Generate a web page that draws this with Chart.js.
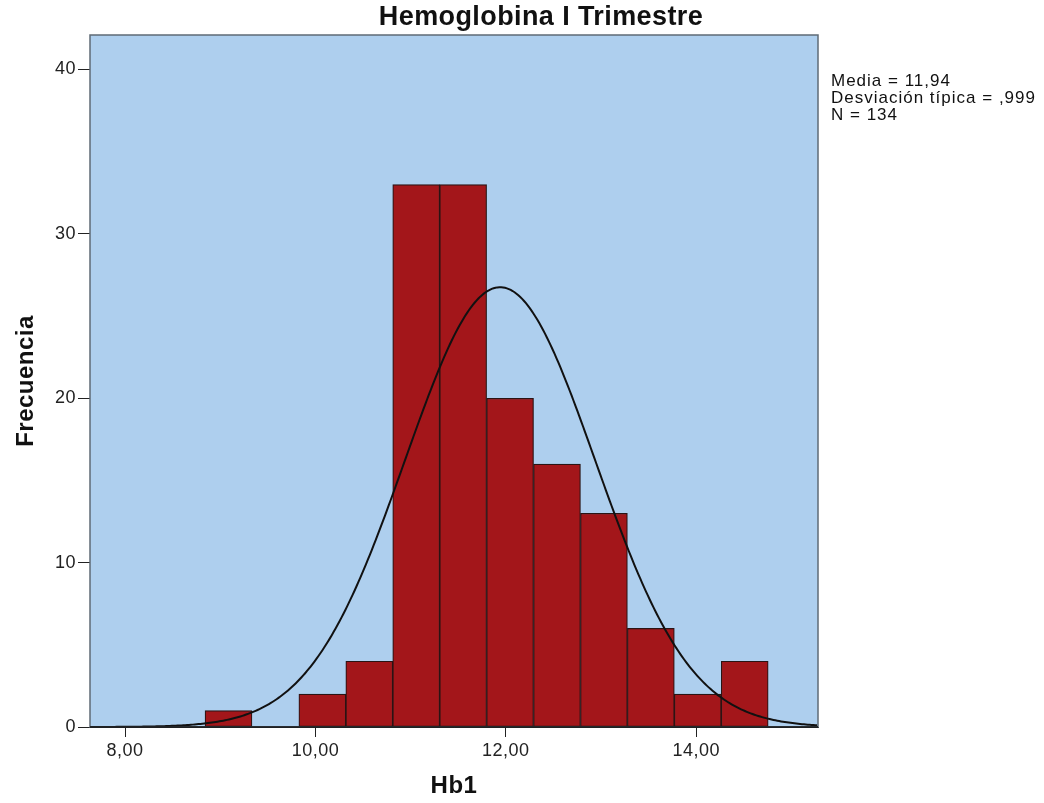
<!DOCTYPE html>
<html lang="es">
<head>
  <meta charset="UTF-8" />
  <title>Hemoglobina I Trimestre</title>
  <script src="https://cdn.jsdelivr.net/npm/chart.js"></script>
  <style>
    body { margin: 0; background: #fff; }
    canvas { display: block; }
  </style>
</head>
<body>
  <canvas id="histo" width="1044" height="803"></canvas>
  <script>
    // bin centres (Hb1, g/dL) and counts
    const binCenters = [9.087, 9.58, 10.073, 10.566, 11.059, 11.552, 12.045, 12.538, 13.031, 13.524, 14.017, 14.51];
    const binCounts  = [1, 0, 2, 4, 33, 33, 20, 16, 13, 6, 2, 4];
    const xTicks = [8, 10, 12, 14];
    const yTicks = [0, 10, 20, 30, 40];
    const statLines = ["Media = 11,94", "Desviación típica = ,999", "N = 134"];

    // stats printed on the chart, used for the normal curve
    const media = 11.94;
    const desv = 0.999;
    const nTotal = 134;
    const curveBinWidth = 0.5;
    const xMin = 7.632, xMax = 15.28;
    const yMax = 42.1;

    const curve = [];
    for (let x = xMin; x <= xMax + 1e-9; x += 0.02) {
      const z = (x - media) / desv;
      curve.push({ x: x, y: nTotal * curveBinWidth * Math.exp(-0.5 * z * z) / (desv * Math.sqrt(2 * Math.PI)) });
    }

    const fmt = v => v.toFixed(2).replace('.', ',');
    const FONT = '"Liberation Sans", Arial, sans-serif';

    const frame = {
      id: 'frame',
      beforeDraw(chart) {
        chart.ctx.letterSpacing = '0.5px';
      },
      beforeDatasetsDraw(chart) {
        const a = chart.chartArea, ctx = chart.ctx;
        ctx.save();
        ctx.fillStyle = '#aecfee';
        ctx.fillRect(a.left, a.top, a.right - a.left, a.bottom - a.top);
        ctx.restore();
      },
      afterDraw(chart) {
        const a = chart.chartArea, ctx = chart.ctx;
        ctx.save();
        ctx.strokeStyle = '#5f6b76';
        ctx.lineWidth = 1.5;
        ctx.strokeRect(a.left, a.top, a.right - a.left, a.bottom - a.top);
        ctx.strokeStyle = '#111';
        ctx.beginPath();
        ctx.moveTo(a.left, a.bottom);
        ctx.lineTo(a.right, a.bottom);
        ctx.stroke();

        ctx.fillStyle = '#111';
        ctx.textAlign = 'center';
        ctx.textBaseline = 'middle';
        ctx.letterSpacing = '0.4px';
        ctx.font = 'bold 27px ' + FONT;
        ctx.fillText('Hemoglobina I Trimestre', 541, 18);

        ctx.textAlign = 'left';
        ctx.letterSpacing = '1px';
        ctx.font = '17px ' + FONT;
        statLines.forEach((t, i) => ctx.fillText(t, 831, 81 + i * 17));
        ctx.restore();
      }
    };

    new Chart(document.getElementById('histo'), {
      type: 'bar',
      data: {
        datasets: [
          {
            type: 'line',
            data: curve,
            borderColor: '#111',
            borderWidth: 2,
            pointRadius: 0,
            tension: 0,
            order: 0
          },
          {
            type: 'bar',
            data: binCenters.map((c, i) => ({ x: c, y: binCounts[i] })),
            backgroundColor: '#a3161a',
            borderColor: '#2b1414',
            borderWidth: 1.2,
            borderSkipped: false,
            barPercentage: 1,
            categoryPercentage: 1,
            order: 1
          }
        ]
      },
      options: {
        responsive: false,
        animation: false,
        layout: { padding: { top: 35, right: 226, left: 0, bottom: 0 } },
        plugins: { legend: { display: false }, tooltip: { enabled: false }, title: { display: false } },
        scales: {
          x: {
            type: 'linear',
            min: xMin,
            max: xMax,
            offset: false,
            afterBuildTicks: s => { s.ticks = xTicks.map(v => ({ value: v })); },
            afterFit: s => { s.height = 76; },
            grid: { drawOnChartArea: false, drawTicks: true, tickLength: 10, color: '#222', offset: false },
            border: { display: true, color: '#111' },
            ticks: {
              callback: v => fmt(v),
              color: '#222',
              padding: 3,
              maxRotation: 0,
              font: { family: FONT, size: 18 }
            },
            title: {
              display: true,
              text: 'Hb1',
              color: '#111',
              padding: { top: 0, bottom: 2 },
              font: { family: FONT, size: 24, weight: 'bold' }
            }
          },
          y: {
            min: 0,
            max: yMax,
            afterBuildTicks: s => { s.ticks = yTicks.map(v => ({ value: v })); },
            afterFit: s => { s.width = 90; },
            grid: { drawOnChartArea: false, drawTicks: true, tickLength: 12, color: '#222' },
            border: { display: true, color: '#111' },
            ticks: {
              color: '#222',
              padding: 2,
              font: { family: FONT, size: 18 }
            },
            title: {
              display: true,
              text: 'Frecuencia',
              color: '#111',
              padding: { top: 12, bottom: 0 },
              font: { family: FONT, size: 24, weight: 'bold' }
            }
          }
        }
      },
      plugins: [frame]
    });
  </script>
</body>
</html>
